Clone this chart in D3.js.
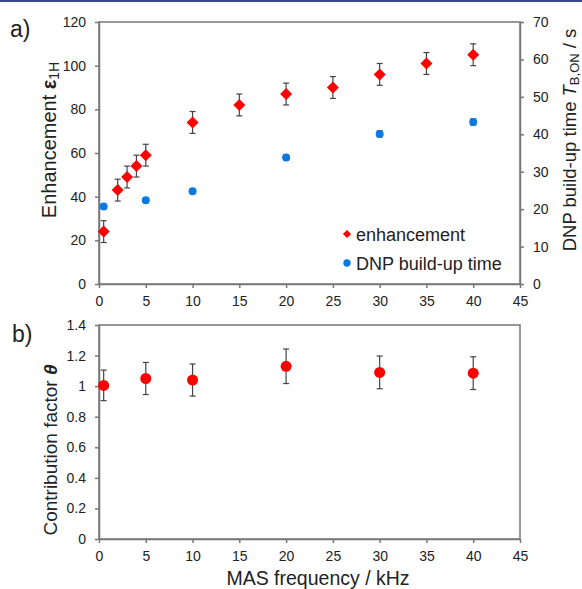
<!DOCTYPE html>
<html>
<head>
<meta charset="utf-8">
<script src="https://cdn.jsdelivr.net/npm/d3@7"></script>
<style>
  body { margin: 0; background: #fff; }
  svg { font-family: "Liberation Sans", Arial, sans-serif; }
</style>
</head>
<body>
<svg id="chart" width="582" height="589"></svg>
<script>
// data
const masFreq = [0.5, 2, 3, 4, 5, 10, 15, 20, 25, 30, 35, 40];
const enhancement = [24, 43, 49, 54, 59, 74, 82, 87, 90, 96, 101, 105];
const enhErr = [5, 5, 5, 5, 5, 5, 5, 5, 5, 5, 5, 5];

const buildFreq = [0.5, 5, 10, 20, 30, 40];
const buildTime = [20.7, 22.4, 24.8, 33.8, 40.1, 43.3];
const buildErr = [0, 0, 0, 0.7, 0.8, 0.8];

const thetaFreq = [0.5, 5, 10, 20, 30, 40];
const theta = [1.005, 1.05, 1.04, 1.13, 1.09, 1.085];
const thetaErr = [0.1, 0.105, 0.105, 0.113, 0.107, 0.107];

const xTicks = [0, 5, 10, 15, 20, 25, 30, 35, 40, 45];
const enhTicks = [0, 20, 40, 60, 80, 100, 120];
const timeTicks = [0, 10, 20, 30, 40, 50, 60, 70];
const thetaTicks = [0, 0.2, 0.4, 0.6, 0.8, 1, 1.2, 1.4];

const svg = d3.select("#chart");
const axisCol = "#777", textCol = "#222", errCol = "#444";

// page header rule
svg.append("rect").attr("x", 0).attr("y", 0).attr("width", 582).attr("height", 2).attr("fill", "#3a4a8c");

const left = 99, right = 520;
const x = d3.scaleLinear([0, 45], [left, right]);

const yEnh = d3.scaleLinear([0, 120], [284, 22]);
const yTime = d3.scaleLinear([0, 70], [284, 22]);
const yTheta = d3.scaleLinear([0, 1.4], [539, 325]);

function styleAxis(g) {
  g.selectAll("path, line").attr("stroke", axisCol).attr("stroke-width", 1.5);
  g.selectAll("text").attr("font-size", "14px").attr("fill", textCol).attr("font-family", "Liberation Sans, Arial, sans-serif");
}

function frame(yScale) {
  const [b, t] = yScale.range();
  svg.append("rect").attr("x", left).attr("y", t).attr("width", right - left).attr("height", b - t)
    .attr("fill", "none").attr("stroke", axisCol).attr("stroke-width", 1.5);
}

function errorBars(xs, ys, es, yScale, cap) {
  const g = svg.append("g").attr("stroke", errCol).attr("stroke-width", 1.2);
  xs.forEach((v, i) => {
    if (!es[i]) return;
    const cx = x(v), y1 = yScale(ys[i] - es[i]), y2 = yScale(ys[i] + es[i]);
    g.append("line").attr("x1", cx).attr("x2", cx).attr("y1", y1).attr("y2", y2);
    g.append("line").attr("x1", cx - cap).attr("x2", cx + cap).attr("y1", y1).attr("y2", y1);
    g.append("line").attr("x1", cx - cap).attr("x2", cx + cap).attr("y1", y2).attr("y2", y2);
  });
}

// ---------- panel a ----------
frame(yEnh);
svg.append("g").attr("transform", `translate(0,284)`)
  .call(d3.axisBottom(x).tickValues(xTicks).tickSize(4).tickPadding(8).tickSizeOuter(0))
  .call(styleAxis);
svg.append("g").attr("transform", `translate(${left},0)`)
  .call(d3.axisLeft(yEnh).tickValues(enhTicks).tickSize(4).tickPadding(9).tickSizeOuter(0))
  .call(styleAxis);
svg.append("g").attr("transform", `translate(${right},0)`)
  .call(d3.axisRight(yTime).tickValues(timeTicks).tickSize(4).tickPadding(9).tickSizeOuter(0))
  .call(styleAxis);

errorBars(masFreq, enhancement, enhErr, yEnh, 3);
errorBars(buildFreq, buildTime, buildErr, yTime, 3);

const diamond = d3.symbol().type(d3.symbolSquare).size(72);
svg.append("g").selectAll("path")
  .data(masFreq.map((f, i) => [f, enhancement[i]]))
  .join("path")
  .attr("d", diamond)
  .attr("transform", d => `translate(${x(d[0])},${yEnh(d[1])}) rotate(45)`)
  .attr("fill", "#ff0000");

svg.append("g").selectAll("circle")
  .data(buildFreq.map((f, i) => [f, buildTime[i]]))
  .join("circle")
  .attr("cx", d => x(d[0])).attr("cy", d => yTime(d[1])).attr("r", 4)
  .attr("fill", "#0a7ae0");

// legend
const leg = svg.append("g").attr("font-size", "18px").attr("fill", textCol);
leg.append("path").attr("d", d3.symbol().type(d3.symbolSquare).size(34)())
  .attr("transform", "translate(347,234) rotate(45)").attr("fill", "#ff0000");
leg.append("text").attr("x", 356).attr("y", 240.5).text("enhancement");
leg.append("circle").attr("cx", 347).attr("cy", 263).attr("r", 3.7).attr("fill", "#0a7ae0");
leg.append("text").attr("x", 356).attr("y", 269.5).text("DNP build-up time");

// axis titles
const t1 = svg.append("text").attr("transform", "translate(56,140) rotate(-90)")
  .attr("text-anchor", "middle").attr("font-size", "20px").attr("fill", textCol);
t1.append("tspan").text("Enhancement ");
t1.append("tspan").attr("font-weight", "bold").text("ε");
t1.append("tspan").attr("font-size", "14px").attr("dy", 3).text("1H");

const t2 = svg.append("text").attr("transform", "translate(576,140) rotate(-90)")
  .attr("text-anchor", "middle").attr("font-size", "18.5px").attr("fill", textCol);
t2.append("tspan").text("DNP build-up time ");
t2.append("tspan").attr("font-style", "italic").text("T");
t2.append("tspan").attr("font-size", "13px").attr("dy", 3).text("B,ON");
t2.append("tspan").attr("dy", -3).text(" / s");

svg.append("text").attr("x", 10).attr("y", 37).attr("font-size", "23px").attr("fill", textCol).text("a)");

// ---------- panel b ----------
frame(yTheta);
svg.append("g").attr("transform", `translate(0,539)`)
  .call(d3.axisBottom(x).tickValues(xTicks).tickSize(4).tickPadding(8).tickSizeOuter(0))
  .call(styleAxis);
svg.append("g").attr("transform", `translate(${left},0)`)
  .call(d3.axisLeft(yTheta).tickValues(thetaTicks).tickFormat(d3.format("~g")).tickSize(4).tickPadding(9).tickSizeOuter(0))
  .call(styleAxis);

errorBars(thetaFreq, theta, thetaErr, yTheta, 3);
svg.append("g").selectAll("circle")
  .data(thetaFreq.map((f, i) => [f, theta[i]]))
  .join("circle")
  .attr("cx", d => x(d[0])).attr("cy", d => yTheta(d[1])).attr("r", 5.5)
  .attr("fill", "#ff0000");

const t3 = svg.append("text").attr("transform", "translate(57,450) rotate(-90)")
  .attr("text-anchor", "middle").attr("font-size", "19px").attr("fill", textCol);
t3.append("tspan").text("Contribution factor ");
t3.append("tspan").attr("font-weight", "bold").attr("font-style", "italic").text("θ");

svg.append("text").attr("x", 318).attr("y", 585).attr("text-anchor", "middle")
  .attr("font-size", "19.5px").attr("fill", textCol).text("MAS frequency / kHz");

svg.append("text").attr("x", 12).attr("y", 342).attr("font-size", "23px").attr("fill", textCol).text("b)");
</script>
</body>
</html>
